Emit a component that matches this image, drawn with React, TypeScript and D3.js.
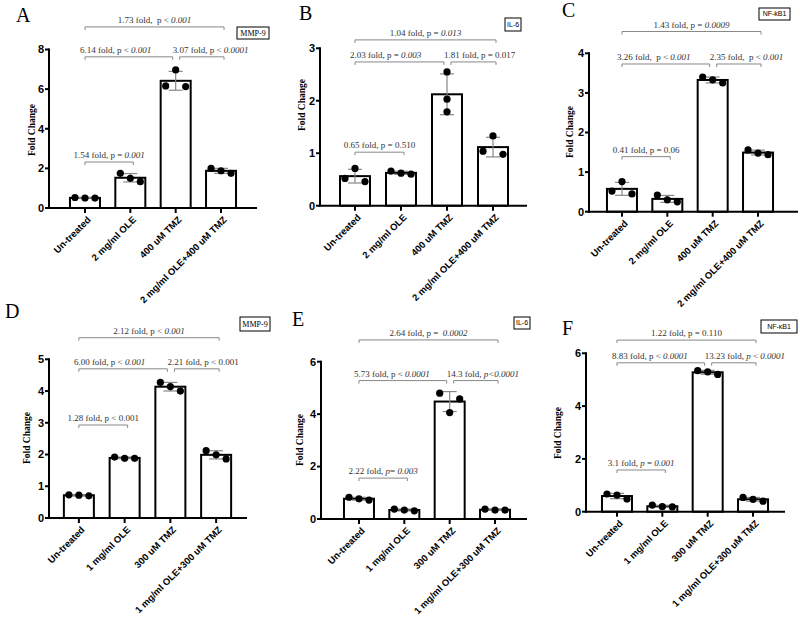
import React from "react";
import * as d3 from "d3";

// ---------- data ----------
const categoriesTop = ["Un-treated", "2 mg/ml OLE", "400 uM TMZ", "2 mg/ml OLE+400 uM TMZ"];
const categoriesBottom = ["Un-treated", "1 mg/ml OLE", "300 uM TMZ", "1 mg/ml OLE+300 uM TMZ"];
const panelLetters = ["A", "B", "C", "D", "E", "F"];
const markers = ["MMP-9", "IL-6", "NF-kB1", "MMP-9", "IL-6", "NF-κB1"];

// replicate values per group, ordered left / centre / right
const pointsA = [[0.53, 0.5, 0.5], [1.75, 1.5, 1.33], [6.16, 6.97, 6.13], [2.0, 1.88, 1.75]];
const pointsB = [[0.52, 0.71, 0.46], [0.66, 0.62, 0.6], [2.55, 2.03, 1.79], [1.04, 1.33, 0.98]];
const pointsC = [[0.52, 0.76, 0.45], [0.42, 0.3, 0.25], [3.4, 3.33, 3.25], [1.56, 1.48, 1.44]];
const pointsD = [[0.73, 0.72, 0.7], [1.92, 1.88, 1.88], [4.27, 4.14, 4.0], [2.12, 1.99, 1.86]];
const pointsE = [[0.83, 0.77, 0.72], [0.38, 0.34, 0.31], [4.8, 4.06, 4.58], [0.38, 0.34, 0.34]];
const pointsF = [[0.67, 0.63, 0.48], [0.25, 0.19, 0.18], [5.34, 5.3, 5.2], [0.54, 0.47, 0.4]];
const centredGroupsB = [false, false, true, false];

const ticksA = [0, 2, 4, 6, 8];
const ticksB = [0, 1, 2, 3];
const ticksC = [0, 1, 2, 3, 4];
const ticksD = [0, 1, 2, 3, 4, 5];
const ticksE = [0, 2, 4, 6];
const ticksF = [0, 2, 4, 6];

// comparison brackets: from group, to group, level (data units), label (*...* = italic)
const bracketsA = [
  { from: 0, to: 3, level: 9.14, label: "1.73 fold,  p < *0.001*" },
  { from: 0, to: 2, level: 7.63, label: "6.14 fold, p < *0.001*" },
  { from: 2, to: 3, level: 7.63, label: "3.07 fold, p < *0.0001*" },
  { from: 0, to: 1, level: 2.32, label: "1.54 fold, p = *0.001*" },
];
const bracketsB = [
  { from: 0, to: 3, level: 3.16, label: "1.04 fold, p = *0.013*" },
  { from: 0, to: 2, level: 2.74, label: "2.03 fold, p = *0.003*" },
  { from: 2, to: 3, level: 2.74, label: "1.81 fold, p = 0.017" },
  { from: 0, to: 1, level: 1.02, label: "0.65 fold, p = 0.510" },
];
const bracketsC = [
  { from: 0, to: 3, level: 4.55, label: "1.43 fold, p = *0.0009*" },
  { from: 0, to: 2, level: 3.73, label: "3.26 fold,  p < *0.001*" },
  { from: 2, to: 3, level: 3.73, label: "2.35 fold,  p < *0.001*" },
  { from: 0, to: 1, level: 1.39, label: "0.41 fold, p = 0.06" },
];
const bracketsD = [
  { from: 0, to: 3, level: 5.68, label: "2.12 fold, p < *0.001*" },
  { from: 0, to: 2, level: 4.7, label: "6.00 fold, p < *0.001*" },
  { from: 2, to: 3, level: 4.7, label: "2.21 fold, p < 0.001" },
  { from: 0, to: 1, level: 2.93, label: "1.28 fold, p < 0.001" },
];
const bracketsE = [
  { from: 0, to: 3, level: 6.83, label: "2.64 fold, p =  *0.0002*" },
  { from: 0, to: 2, level: 5.28, label: "5.73 fold, p < *0.0001*" },
  { from: 2, to: 3, level: 5.28, label: "14.3 fold, *p<0.0001*" },
  { from: 0, to: 1, level: 1.56, label: "2.22 fold, *p*= *0.003*" },
];
const bracketsF = [
  { from: 0, to: 3, level: 6.5, label: "1.22 fold, p = 0.110" },
  { from: 0, to: 2, level: 5.64, label: "8.83 fold, p < *0.0001*" },
  { from: 2, to: 3, level: 5.64, label: "13.23 fold, *p* < *0.0001*" },
  { from: 0, to: 1, level: 1.58, label: "3.1 fold, *p* = *0.001*" },
];

// ---------- layout ----------
const layout = [
  { x0: 49, r0: 62.3, r1: 243.7, xEnd: 257, y0: 208, y1: 49.5, title: [32, 130], letter: [16, 22], box: [237, 27, 32, 12], boxSerif: true },
  { x0: 320, r0: 332, r1: 516, xEnd: 527, y0: 205.7, y1: 48.3, title: [302, 105], letter: [299, 20], box: [505, 18, 16, 13], boxSerif: false },
  { x0: 589, r0: 599.3, r1: 780.7, xEnd: 798, y0: 211.7, y1: 53.3, title: [570, 132], letter: [562, 17], box: [759, 8, 31, 12], boxSerif: false },
  { x0: 49, r0: 56, r1: 239, xEnd: 247, y0: 518, y1: 359.3, title: [27, 438], letter: [5, 318], box: [240, 317, 30, 14], boxSerif: true },
  { x0: 321, r0: 336.3, r1: 517.7, xEnd: 527, y0: 519, y1: 361.7, title: [300, 440], letter: [292, 326], box: [514, 317, 16, 12], boxSerif: false },
  { x0: 586, r0: 594.3, r1: 775.7, xEnd: 785, y0: 511.7, y1: 353.3, title: [558, 433], letter: [562, 335], box: [761, 320, 36, 13], boxSerif: false },
];

const panels = [
  { pts: pointsA, ticks: ticksA, brackets: bracketsA, cats: categoriesTop, centred: [false, false, false, false] },
  { pts: pointsB, ticks: ticksB, brackets: bracketsB, cats: categoriesTop, centred: centredGroupsB },
  { pts: pointsC, ticks: ticksC, brackets: bracketsC, cats: categoriesTop, centred: [false, false, false, false] },
  { pts: pointsD, ticks: ticksD, brackets: bracketsD, cats: categoriesBottom, centred: [false, false, false, false] },
  { pts: pointsE, ticks: ticksE, brackets: bracketsE, cats: categoriesBottom, centred: [false, false, false, false] },
  { pts: pointsF, ticks: ticksF, brackets: bracketsF, cats: categoriesBottom, centred: [false, false, false, false] },
];

const SERIF = "'Liberation Serif', 'Times New Roman', serif";
const SANS = "'Liberation Sans', Arial, sans-serif";

function RichLabel({ text, x, y, anchor }: { text: string; x: number; y: number; anchor: string }) {
  const parts = text.split("*");
  return (
    <text x={x} y={y} textAnchor={anchor} fontFamily={SERIF} fontSize={9} fill="#333" style={{ whiteSpace: "pre" }}>
      {parts.map((p, k) => (
        <tspan key={k} fontStyle={k % 2 === 1 ? "italic" : "normal"}>{p}</tspan>
      ))}
    </text>
  );
}

function Panel({ idx }: { idx: number }) {
  const L = layout[idx];
  const P = panels[idx];
  const yMax = P.ticks[P.ticks.length - 1];
  const y = d3.scaleLinear().domain([0, yMax]).range([L.y0, L.y1]);
  const x = d3.scalePoint<string>().domain(P.cats).range([L.r0, L.r1]).padding(0.5);
  const barW = 30;
  const spread = 10;
  const cx = (i: number) => x(P.cats[i]) as number;

  return (
    <g>
      {/* panel letter */}
      <text x={L.letter[0]} y={L.letter[1]} fontFamily={SERIF} fontSize={20}>{panelLetters[idx]}</text>
      {/* marker box */}
      <rect x={L.box[0]} y={L.box[1]} width={L.box[2]} height={L.box[3]} fill="white" stroke="black" strokeWidth={1} />
      <text x={L.box[0] + L.box[2] / 2} y={L.box[1] + L.box[3] / 2} dy="0.35em" textAnchor="middle"
        fontFamily={L.boxSerif ? SERIF : SANS} fontSize={L.boxSerif ? 8 : 7}>{markers[idx]}</text>

      {/* bars */}
      {P.pts.map((vals, i) => {
        const m = d3.mean(vals) as number;
        return (
          <rect key={"b" + i} x={cx(i) - barW / 2} y={y(m)} width={barW} height={L.y0 - y(m)}
            fill="white" stroke="black" strokeWidth={2} />
        );
      })}
      {/* error bars */}
      {P.pts.map((vals, i) => {
        const m = d3.mean(vals) as number;
        const sd = d3.deviation(vals) as number;
        const c = cx(i);
        return (
          <g key={"e" + i} stroke="#888" strokeWidth={1.2}>
            <line x1={c} x2={c} y1={y(m + sd)} y2={y(Math.max(0, m - sd))} />
            <line x1={c - 7} x2={c + 7} y1={y(m + sd)} y2={y(m + sd)} />
            <line x1={c - 7} x2={c + 7} y1={y(Math.max(0, m - sd))} y2={y(Math.max(0, m - sd))} />
          </g>
        );
      })}
      {/* points */}
      {P.pts.map((vals, i) =>
        vals.map((v, j) => (
          <circle key={"p" + i + "-" + j} cx={cx(i) + (P.centred[i] ? 0 : (j - 1) * spread)} cy={y(v)} r={3.6} fill="black" />
        ))
      )}

      {/* axes */}
      <line x1={L.x0} x2={L.x0} y1={y(yMax) - 1} y2={L.y0 + 1} stroke="black" strokeWidth={2} />
      <line x1={L.x0 - 1} x2={L.xEnd} y1={L.y0} y2={L.y0} stroke="black" strokeWidth={2} />
      {P.ticks.map((t) => (
        <g key={"t" + t}>
          <line x1={L.x0 - 4} x2={L.x0} y1={y(t)} y2={y(t)} stroke="black" strokeWidth={2} />
          <text x={L.x0 - 5} y={y(t)} dy="0.35em" textAnchor="end" fontFamily={SANS} fontWeight="bold" fontSize={11}>{t}</text>
        </g>
      ))}
      {P.cats.map((c, i) => (
        <g key={"x" + i}>
          <line x1={cx(i)} x2={cx(i)} y1={L.y0} y2={L.y0 + 5} stroke="black" strokeWidth={2} />
          <text transform={`translate(${cx(i) + 4},${L.y0 + 10}) rotate(-45)`} textAnchor="end" dy="0.35em"
            fontFamily={SANS} fontWeight="bold" fontSize={9.5}>{c}</text>
        </g>
      ))}
      {/* y title */}
      <text transform={`translate(${L.title[0]},${L.title[1]}) rotate(-90)`} textAnchor="middle" dy="0.35em"
        fontFamily={SERIF} fontWeight="bold" fontSize={9.5}>Fold Change</text>

      {/* brackets */}
      {P.brackets.map((b, k) => {
        const left = cx(b.from) + (b.from === 2 ? 4 : 0);
        const right = cx(b.to) + (b.to === 2 ? -3 : 3);
        const by = y(b.level);
        const inner = b.to - b.from === 2 || (b.from === 2 && b.to === 3);
        const lx = !inner ? (left + right) / 2 : b.from === 0 ? left - 5 : left - 7;
        return (
          <g key={"br" + k}>
            <path d={`M${left},${by + 3}V${by}H${right}V${by + 3}`} fill="none" stroke="#888" strokeWidth={1} />
            <RichLabel text={b.label} x={lx} y={by - 4} anchor={inner ? "start" : "middle"} />
          </g>
        );
      })}
    </g>
  );
}

export default function App() {
  return (
    <svg width={800} height={618} viewBox="0 0 800 618" style={{ position: "absolute", left: 0, top: 0, background: "white" }}>
      <rect x={0} y={0} width={800} height={618} fill="white" />
      {panelLetters.map((_, i) => (
        <Panel key={i} idx={i} />
      ))}
    </svg>
  );
}
